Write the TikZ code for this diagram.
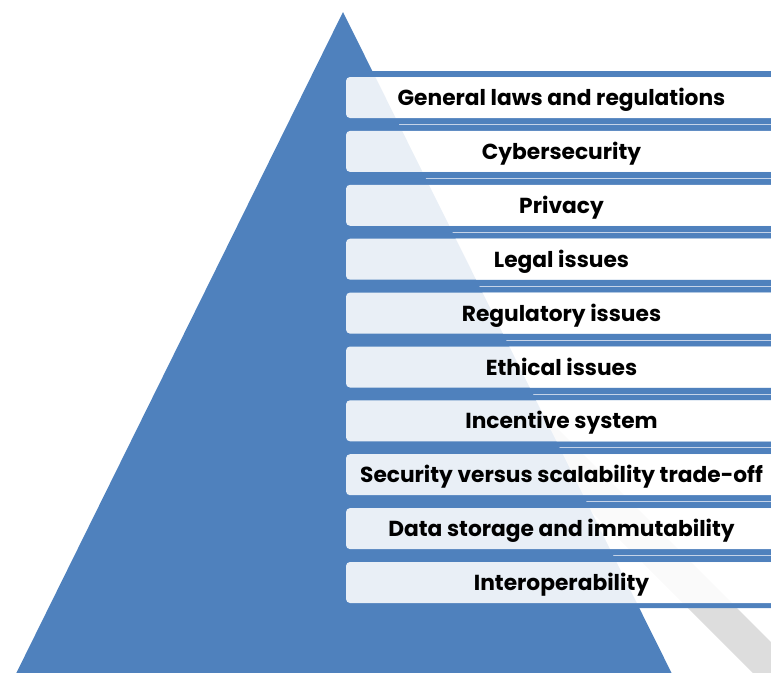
\documentclass[tikz,border=0pt]{standalone}
\usepackage{fontspec}
\setmainfont{Poppins}
\usetikzlibrary{positioning}
\definecolor{pyrblue}{HTML}{4F81BD}
\definecolor{shadowgray}{HTML}{DDDDDD}
\definecolor{seamblue}{HTML}{C5D3E8}

\begin{document}
\begin{tikzpicture}[x=0.75pt,y=-0.75pt,
	lvlbox/.style={rounded corners=3pt, fill=white, fill opacity=0.88,
		text opacity=1, minimum width=323.25pt, minimum height=30.75pt,
		inner sep=0pt, text height=12pt, text depth=0pt,
		font=\fontsize{16.3}{19}\selectfont\bfseries},
	seam/.style={seamblue, line width=0.6pt}]

	\useasboundingbox (0,0) rectangle (771,672);

	% Draw the gray shadow band behind the pyramid
	\fill[shadowgray] (460,380) -- (509,380) -- (909,780) -- (860,780) -- cycle;

	% Draw the blue bars between the levels
	\fill[pyrblue] (346,71) rectangle (780,77)
		(346,118.0) rectangle (780,130.9)
		(346,171.9) rectangle (780,184.8)
		(346,225.8) rectangle (780,238.7)
		(346,279.7) rectangle (780,292.6)
		(346,333.6) rectangle (780,346.5)
		(346,387.5) rectangle (780,400.3)
		(346,441.3) rectangle (780,454.2)
		(346,495.2) rectangle (780,508.1)
		(346,549.1) rectangle (780,562.0)
		(346,603) rectangle (780,608);

	% Draw the thin light seams in the bars
	\draw[seam] (346,124.4) -- (780,124.4) (346,178.3) -- (780,178.3)
		(346,232.2) -- (780,232.2) (346,286.1) -- (780,286.1)
		(346,340.0) -- (780,340.0) (346,393.9) -- (780,393.9)
		(346,447.8) -- (780,447.8) (346,501.7) -- (780,501.7)
		(346,555.6) -- (780,555.6);

	% Draw the pyramid
	\fill[pyrblue] (343,12) -- (3,700) -- (685,700) -- cycle;

	% Draw the levels, top to bottom
	\node[lvlbox] (laws) at (561.5,97.5) {General laws and regulations};
	\node[lvlbox] (cyber) at (561.5,151.4) {Cybersecurity};
	\node[lvlbox] (privacy) at (561.5,205.3) {Privacy};
	\node[lvlbox] (legal) at (561.5,259.2) {Legal issues};
	\node[lvlbox] (regul) at (561.5,313.1) {Regulatory issues};
	\node[lvlbox] (ethic) at (561.5,367.0) {Ethical issues};
	\node[lvlbox] (incent) at (561.5,420.8) {Incentive system};
	\node[lvlbox] (secscale) at (561.5,474.7) {Security versus scalability trade-off};
	\node[lvlbox] (storage) at (561.5,528.6) {Data storage and immutability};
	\node[lvlbox] (interop) at (561.5,582.5) {Interoperability};

\end{tikzpicture}
\end{document}
